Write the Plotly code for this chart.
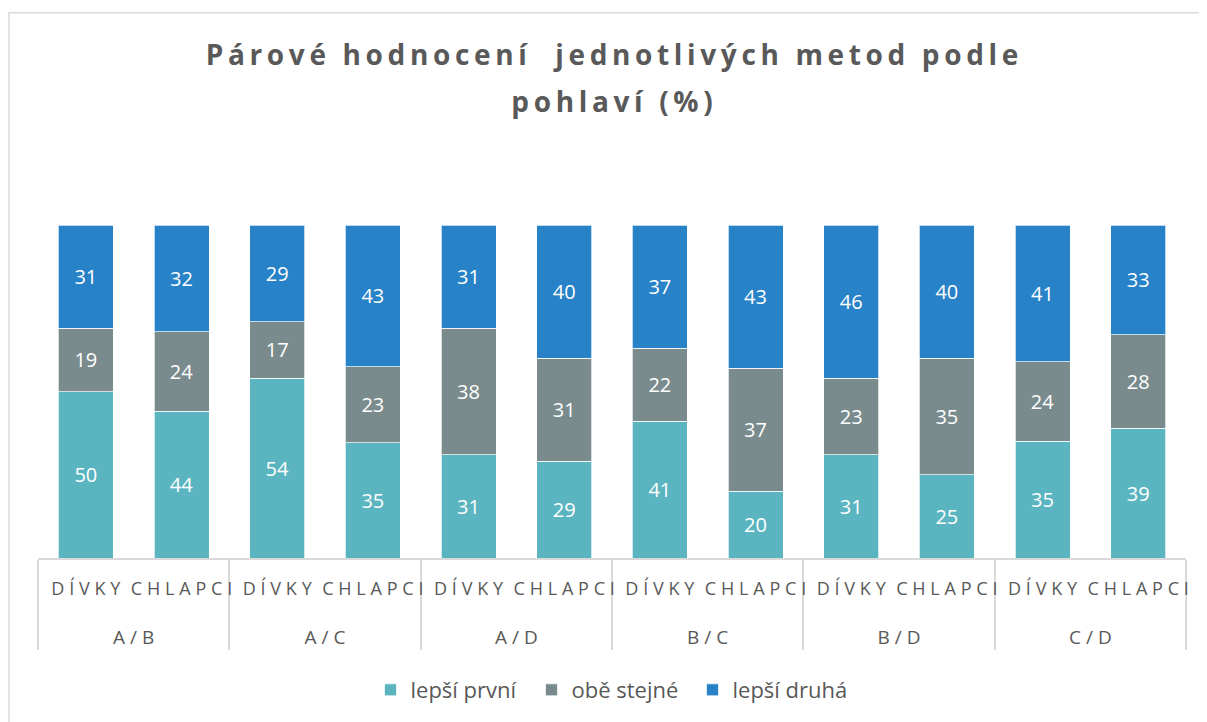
import plotly.graph_objects as go

pairs = ["A/B", "A/C", "A/D", "B/C", "B/D", "C/D"]
genders = ["DÍVKY", "CHLAPCI"]
series_names = ["lepší první", "obě stejné", "lepší druhá"]
lepsi_prvni = [50, 44, 54, 35, 31, 29, 41, 20, 31, 25, 35, 39]
obe_stejne = [19, 24, 17, 23, 38, 31, 22, 37, 23, 35, 24, 28]
lepsi_druha = [31, 32, 29, 43, 31, 40, 37, 43, 46, 40, 41, 33]
colors = ["#5BB5C0", "#7A8B8D", "#2782C7"]
title_lines = ["Párové hodnocení  jednotlivých metod podle", "pohlaví (%)"]

def spaced(s, sep="\u2009"):
    return sep.join(list(s))

W, H = 1199, 714
L, R, T, B = 30, 21, 217, 163
plot_h = H - T - B

def big(s, size=18):
    return "<span style='font-size:%dpx'>" % size + s + "</span>"

# extra invisible lines under the gender labels push the pair labels lower
pad_lines = "<br>\u00a0<br><span style='font-size:6px'>\u00a0</span>"

lvl1 = []
lvl2 = []
for p in pairs:
    for g in genders:
        lvl1.append(big(spaced(p, "\u2009\u200a"), 19))
        lvl2.append(big(spaced(g, "\u2009\u200a")) + pad_lines)
x = [lvl1, lvl2]

fig = go.Figure()
for name, vals, col in zip(series_names, [lepsi_prvni, obe_stejne, lepsi_druha], colors):
    fig.add_trace(go.Bar(
        x=x, y=vals, name=name, text=vals,
        marker=dict(color=col, line=dict(color="rgba(255,255,255,0.7)", width=1)),
        textposition="inside", insidetextanchor="middle", textangle=0,
        textfont=dict(color="white", size=20, family="Open Sans"),
    ))

title_text = "<br>".join('<span style="font-size:28px">' + spaced(t) + "</span>" for t in title_lines)

fig.update_layout(
    barmode="stack", barnorm="percent", bargap=0.425,
    width=W, height=H,
    margin=dict(l=L, r=R, t=T, b=B),
    paper_bgcolor="white", plot_bgcolor="white",
    font=dict(family="Open Sans", color="#595959"),
    title=dict(text="<b>" + title_text + "</b>", x=0.5, xref="paper", xanchor="center",
               y=1 - 57 / H, yref="container", yanchor="middle",
               font=dict(size=36, color="#595959", family="Open Sans")),
    showlegend=True,
    legend=dict(orientation="h", x=0.5, xanchor="center", y=-(682 - (H - B)) / plot_h, yanchor="middle",
                font=dict(size=22, color="#595959"), traceorder="normal",
                entrywidth=116, entrywidthmode="pixels"),
    uniformtext=dict(minsize=20, mode="show"),
)
fig.update_xaxes(type="multicategory", showline=True, linecolor="#D9D9D9", linewidth=1.5,
                 showdividers=True, dividercolor="#D9D9D9", dividerwidth=1.5,
                 tickfont=dict(size=16, color="#595959"), tickangle=0,
                 ticks="", ticklabelstandoff=16,
                 showgrid=False)
fig.update_yaxes(range=[0, 100], visible=False, showgrid=False)

fig.add_shape(type="rect", xref="paper", yref="paper",
              x0=(1 - L) / (W - L - R), x1=1.2, y0=-2, y1=1 + (T - 4) / plot_h,
              line=dict(color="#D9D9D9", width=1.5), fillcolor="rgba(0,0,0,0)", layer="below")

fig.write_html("out.html")
